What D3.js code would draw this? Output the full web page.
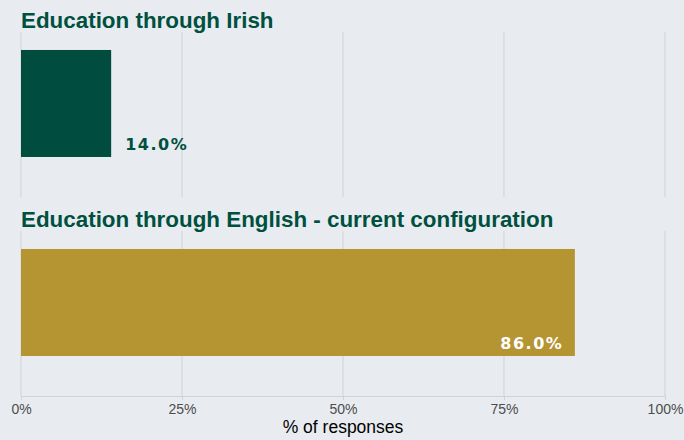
<!DOCTYPE html>
<html>
<head>
<meta charset="utf-8">
<script src="https://cdn.jsdelivr.net/npm/d3@7"></script>
<style>
  body { margin: 0; background: #e8ecf0; }
  svg { display: block; }
</style>
</head>
<body>
<div id="chart"></div>
<script>
// data
const categories = ["Education through Irish", "Education through English - current configuration"]
const values = [14.0, 86.0]
const barColors = ["#004d40", "#b59432"]
const tickValues = [0, 25, 50, 75, 100]

const width = 684
const height = 440
const margin = {left: 21, right: 19}
const panelTops = [32, 231]
const panelH = 165

const $svg = d3.select("#chart").append("svg")
    .attr("width", width)
    .attr("height", height)

$svg.append("rect")
    .attr("width", width)
    .attr("height", height)
    .attr("fill", "#e8ecf0")

const xScale = d3.scaleLinear()
    .domain([0, 100])
    .range([margin.left, width - margin.right])

categories.forEach((cat, i) => {
    const top = panelTops[i]
    const yScale = d3.scaleBand()
        .domain([cat])
        .range([top, top + panelH])
        .paddingInner(0)
        .paddingOuter(0.271)
        .align(0.31)

    const $g = $svg.append("g")

    // title
    $g.append("text")
        .attr("x", margin.left)
        .attr("y", top - 4)
        .attr("font-family", "Liberation Sans, Arial, sans-serif")
        .attr("font-weight", "bold")
        .attr("font-size", 22.4)
        .attr("fill", "#00503f")
        .text(cat)

    // gridlines
    $g.selectAll("line.grid")
        .data(tickValues)
        .enter().append("line")
        .attr("class", "grid")
        .attr("x1", d => xScale(d))
        .attr("x2", d => xScale(d))
        .attr("y1", top)
        .attr("y2", top + panelH)
        .attr("stroke", "#cfd2d6")
        .attr("stroke-width", 1)

    // bar
    $g.append("rect")
        .attr("x", xScale(0))
        .attr("y", yScale(cat))
        .attr("width", xScale(values[i]) - xScale(0))
        .attr("height", yScale.bandwidth())
        .attr("fill", barColors[i])

    // value label
    const inside = values[i] > 50
    $g.append("text")
        .attr("x", inside ? xScale(values[i]) - 11.5 : xScale(values[i]) + 14)
        .attr("y", yScale(cat) + yScale.bandwidth() - 7)
        .attr("text-anchor", inside ? "end" : "start")
        .attr("font-family", "DejaVu Sans, Verdana, sans-serif")
        .attr("font-weight", "bold")
        .attr("font-size", 16)
        .attr("letter-spacing", 1.5)
        .attr("fill", inside ? "#ffffff" : "#00503f")
        .text(values[i].toFixed(1) + "%")

    // axis only on last panel
    if (i === categories.length - 1) {
        const xAxis = g => g.attr("transform", `translate(0, ${top + panelH})`)
            .call(d3.axisBottom(xScale).tickValues(tickValues).tickFormat(d => d + "%").tickSize(4).tickPadding(4))
            .call(g => g.select(".domain").attr("stroke", "#cfd2d6"))
            .call(g => g.selectAll(".tick line").attr("stroke", "#cfd2d6"))
            .call(g => g.selectAll(".tick text")
                .attr("fill", "#4d4d4d")
                .attr("font-family", "Liberation Sans, Arial, sans-serif")
                .attr("font-size", 14))
        $svg.append("g").call(xAxis)
    }
})

$svg.append("text")
    .attr("x", (xScale(0) + xScale(100)) / 2)
    .attr("y", 433)
    .attr("text-anchor", "middle")
    .attr("font-family", "Liberation Sans, Arial, sans-serif")
    .attr("font-size", 17.5)
    .attr("fill", "#000000")
    .text("% of responses")
</script>
</body>
</html>
